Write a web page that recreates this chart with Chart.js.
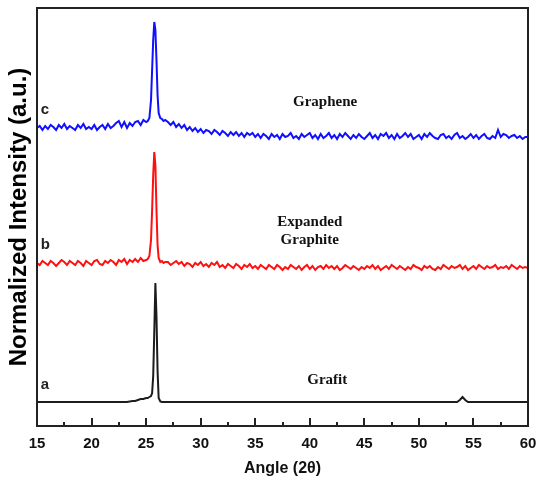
<!DOCTYPE html>
<html><head><meta charset="utf-8">
<script src="https://cdn.jsdelivr.net/npm/chart.js@4/dist/chart.umd.min.js"></script>
<style>html,body{margin:0;padding:0;background:#fff}#wrap{width:538px;height:480px}</style>
</head><body><div id="wrap"><canvas id="c" width="538" height="480"></canvas></div>
<script>
const angle = [15,15.25,15.5,15.75,16,16.25,16.5,16.75,17,17.25,17.5,17.75,18,18.25,18.5,18.75,19,19.25,19.5,19.75,20,20.25,20.5,20.75,21,21.25,21.5,21.75,22,22.25,22.5,22.75,23,23.25,23.5,23.75,24,24.25,24.5,24.75,25,
25.15,25.3,25.45,25.55,25.65,25.75,25.85,25.95,26.05,26.15,26.3,26.45,26.6,26.75,
27,27.25,27.5,27.75,28,28.25,28.5,28.75,29,29.25,29.5,29.75,30,30.25,30.5,30.75,31,31.25,31.5,31.75,32,32.25,32.5,32.75,33,33.25,33.5,33.75,34,34.25,34.5,34.75,35,35.25,35.5,35.75,36,36.25,36.5,36.75,37,37.25,37.5,37.75,38,38.25,38.5,38.75,39,39.25,39.5,39.75,40,40.25,40.5,40.75,41,41.25,41.5,41.75,42,42.25,42.5,42.75,43,43.25,43.5,43.75,44,44.25,44.5,44.75,45,45.25,45.5,45.75,46,46.25,46.5,46.75,47,47.25,47.5,47.75,48,48.25,48.5,48.75,49,49.25,49.5,49.75,50,50.25,50.5,50.75,51,51.25,51.5,51.75,52,52.25,52.5,52.75,53,53.25,53.5,53.75,54,54.25,54.5,54.75,55,55.25,55.5,55.75,56,56.25,56.5,56.75,57,57.25,57.5,57.75,58,58.25,58.5,58.75,59,59.25,59.5,59.75,60];

const grapheneC = [2.98,3.00,2.96,3.00,2.97,3.01,2.99,2.96,3.01,2.98,3.02,2.97,3.00,2.98,2.96,3.01,2.98,3.02,2.97,2.99,2.97,3.01,2.96,2.99,3.01,2.97,3.02,2.98,3.00,3.03,3.05,2.99,3.04,2.98,3.03,3.00,3.04,3.05,3.01,3.06,3.04,
3.05,3.08,3.26,3.56,3.86,4.04,3.96,3.66,3.31,3.13,3.08,3.07,3.05,3.06,
3.04,3.01,3.04,2.99, 3.02,2.98,3.01,2.96, 2.99,2.95,2.98,2.94, 2.97,2.93,2.96,2.95, 2.92,2.96,2.94,2.91, 2.95,2.93,2.90,2.94, 2.91,2.94,2.90,2.93, 2.89,2.93,2.91,2.93, 2.89,2.92,2.88,2.92, 2.90,2.87,2.92,2.89, 2.91,2.87,2.92,2.89, 2.90,2.93,2.88,2.90, 2.87,2.92,2.89,2.91, 2.93,2.88,2.91,2.87, 2.92,2.88,2.90,2.93, 2.88,2.91,2.87,2.92, 2.89,2.93,2.90,2.87, 2.91,2.88,2.92,2.89, 2.87,2.90,2.93,2.88, 2.91,2.87,2.92,2.90, 2.93,2.88,2.91,2.87, 2.92,2.88,2.90,2.93, 2.89,2.92,2.87,2.89, 2.91,2.87,2.92,2.89, 2.93,2.90,2.88,2.87, 2.91,2.92,2.88,2.90, 2.87,2.91,2.93,2.88, 2.90,2.87,2.89,2.92, 2.88,2.91,2.87,2.90, 2.92,2.88,2.87,2.90, 2.88,2.96,2.89,2.92, 2.91,2.88,2.90,2.91, 2.88,2.90,2.87,2.89, 2.89];

const expandedB = [1.63,1.61,1.65,1.63, 1.61,1.65,1.63,1.60, 1.63,1.66,1.64,1.61, 1.65,1.63,1.61,1.65, 1.63,1.60,1.65,1.63, 1.61,1.65,1.66,1.62, 1.61,1.65,1.63,1.66, 1.64,1.61,1.66,1.64, 1.67,1.62,1.66,1.64, 1.67,1.64,1.68,1.65, 1.66,
1.67,1.70,1.86,2.16,2.51,2.74,2.61,2.16,1.81,1.68,1.64,1.65,1.63,1.64,
1.64,1.61,1.63,1.65, 1.62,1.64,1.60,1.63, 1.62,1.59,1.63,1.61, 1.64,1.60,1.62,1.59, 1.63,1.61,1.64,1.59, 1.61,1.58,1.62,1.60, 1.58,1.62,1.60,1.57, 1.61,1.59,1.62,1.58, 1.60,1.57,1.61,1.59, 1.57,1.61,1.59,1.57, 1.61,1.59,1.56,1.59, 1.57,1.61,1.59,1.57, 1.60,1.56,1.59,1.61, 1.57,1.60,1.56,1.59, 1.60,1.57,1.61,1.58, 1.60,1.57,1.60,1.56, 1.58,1.61,1.59,1.57, 1.60,1.58,1.56,1.59, 1.57,1.60,1.58,1.61, 1.57,1.60,1.56,1.58, 1.60,1.57,1.61,1.59, 1.57,1.60,1.58,1.56, 1.59,1.57,1.61,1.59, 1.58,1.56,1.60,1.58, 1.60,1.57,1.56,1.59, 1.57,1.61,1.59,1.57, 1.60,1.58,1.59,1.61, 1.57,1.60,1.56,1.58, 1.60,1.57,1.61,1.59, 1.57,1.60,1.58,1.59, 1.61,1.57,1.59,1.58, 1.60,1.57,1.61,1.59, 1.57,1.60,1.58,1.59, 1.58];

const grafitA = [0.24,0.24,0.24,0.24, 0.24,0.24,0.24,0.24, 0.24,0.24,0.24,0.24, 0.24,0.24,0.24,0.24, 0.24,0.24,0.24,0.24, 0.24,0.24,0.24,0.24, 0.24,0.24,0.24,0.24, 0.24,0.24,0.24,0.24, 0.24,0.24,0.245,0.25, 0.25,0.26,0.27,0.27, 0.28,
0.28,0.29,0.30,0.33,0.50,0.95,1.43,1.10,0.55,0.28,0.245,0.24,0.24,0.24,
0.24,0.24,0.24,0.24, 0.24,0.24,0.24,0.24, 0.24,0.24,0.24,0.24, 0.24,0.24,0.24,0.24, 0.24,0.24,0.24,0.24, 0.24,0.24,0.24,0.24, 0.24,0.24,0.24,0.24, 0.24,0.24,0.24,0.24, 0.24,0.24,0.24,0.24, 0.24,0.24,0.24,0.24, 0.24,0.24,0.24,0.24, 0.24,0.24,0.24,0.24, 0.24,0.24,0.24,0.24, 0.24,0.24,0.24,0.24, 0.24,0.24,0.24,0.24, 0.24,0.24,0.24,0.24, 0.24,0.24,0.24,0.24, 0.24,0.24,0.24,0.24, 0.24,0.24,0.24,0.24, 0.24,0.24,0.24,0.24, 0.24,0.24,0.24,0.24, 0.24,0.24,0.24,0.24, 0.24,0.24,0.24,0.24, 0.24,0.24,0.24,0.24, 0.24,0.24,0.24,0.24, 0.24,0.24,0.24,0.24, 0.24,0.24,0.24,0.26, 0.29,0.26,0.24,0.24, 0.24,0.24,0.24,0.24, 0.24,0.24,0.24,0.24, 0.24,0.24,0.24,0.24, 0.24,0.24,0.24,0.24, 0.24,0.24,0.24,0.24, 0.24];

const annotations = [
  {text:'Graphene', x:41.4, y:3.24},
  {text:'Expanded', x:40.0, y:2.04},
  {text:'Graphite', x:40.0, y:1.86},
  {text:'Grafit', x:41.6, y:0.46}
];
const letterPos = [{t:'c',x:15.35,y:3.16},{t:'b',x:15.35,y:1.81},{t:'a',x:15.35,y:0.41}];

function pts(ys){ return angle.map((x,i)=>({x:x,y:ys[i]})); }

const deco = {
  id:'deco',
  afterDatasetsDraw(chart){
    const {ctx, chartArea:a, scales:{x,y}} = chart;
    ctx.save();
    ctx.strokeStyle='#222'; ctx.lineWidth=2;
    for(let v=15; v<=60; v+=2.5){
      const px = Math.round(x.getPixelForValue(v));
      const major = (v % 5 === 0);
      ctx.beginPath(); ctx.moveTo(px, a.bottom); ctx.lineTo(px, a.bottom - (major?8:4)); ctx.stroke();
    }
    ctx.strokeRect(a.left, a.top, a.right-a.left, a.bottom-a.top);
    ctx.fillStyle='#222';
    ctx.font='bold 15px "Liberation Sans", Arial, sans-serif';
    ctx.textAlign='left'; ctx.textBaseline='middle';
    letterPos.forEach(l=>ctx.fillText(l.t, x.getPixelForValue(l.x), y.getPixelForValue(l.y)));
    ctx.fillStyle='#111';
    ctx.font='bold 15px "Liberation Serif", "Times New Roman", serif';
    ctx.textAlign='center';
    annotations.forEach(n=>ctx.fillText(n.text, x.getPixelForValue(n.x), y.getPixelForValue(n.y)));
    ctx.font='bold 24px "Liberation Sans", Arial, sans-serif';
    ctx.fillStyle='#000';
    ctx.translate(19, (a.top+a.bottom)/2);
    ctx.rotate(-Math.PI/2);
    ctx.textAlign='center'; ctx.textBaseline='middle';
    ctx.fillText('Normalized Intensity (a.u.)', 0, 0);
    ctx.restore();
  }
};

new Chart(document.getElementById('c'), {
  type:'line',
  data:{ datasets:[
    {label:'a', data:pts(grafitA), borderColor:'#1c1c1c', borderWidth:2},
    {label:'b', data:pts(expandedB), borderColor:'#ff1010', borderWidth:2},
    {label:'c', data:pts(grapheneC), borderColor:'#1010ff', borderWidth:2}
  ]},
  options:{
    responsive:false, animation:false,
    layout:{padding:{left:37, right:0, top:8, bottom:0}},
    elements:{point:{radius:0}, line:{tension:0}},
    plugins:{legend:{display:false}, tooltip:{enabled:false}},
    scales:{
      x:{type:'linear', min:15, max:60,
        grid:{display:false, drawTicks:false}, border:{display:false},
        ticks:{stepSize:5, color:'#111', padding:9, font:{family:'"Liberation Sans", Arial, sans-serif', weight:'bold', size:15}},
        title:{display:true, text:'Angle (2θ)', color:'#111', padding:{top:4,bottom:2}, font:{family:'"Liberation Sans", Arial, sans-serif', weight:'bold', size:16}},
        afterFit(s){ s.height = 54; s.paddingRight = 10; }
      },
      y:{display:false, min:0, max:4.18}
    }
  },
  plugins:[deco]
});
</script></body></html>
